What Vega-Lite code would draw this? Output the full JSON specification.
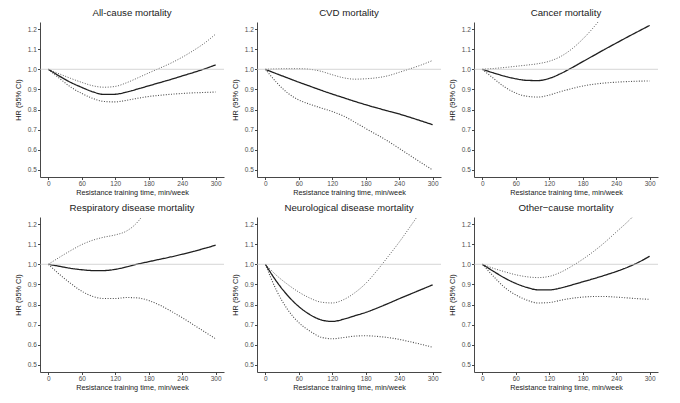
{
  "$schema": "https://vega.github.io/schema/vega-lite/v6.json",
  "background": "white",
  "padding": {"left": 14, "top": 8, "right": 2, "bottom": 2},
  "data": {
    "values": [
      {"p":"a","t":0,"hr":1,"lo":1,"hi":1},
      {"p":"a","t":20,"hr":0.966,"lo":0.955,"hi":0.977},
      {"p":"a","t":40,"hr":0.935,"lo":0.912,"hi":0.955},
      {"p":"a","t":60,"hr":0.910,"lo":0.880,"hi":0.935},
      {"p":"a","t":80,"hr":0.888,"lo":0.855,"hi":0.918},
      {"p":"a","t":100,"hr":0.875,"lo":0.840,"hi":0.911},
      {"p":"a","t":120,"hr":0.876,"lo":0.838,"hi":0.915},
      {"p":"a","t":140,"hr":0.887,"lo":0.846,"hi":0.933},
      {"p":"a","t":160,"hr":0.902,"lo":0.856,"hi":0.957},
      {"p":"a","t":180,"hr":0.918,"lo":0.865,"hi":0.982},
      {"p":"a","t":200,"hr":0.934,"lo":0.871,"hi":1.006},
      {"p":"a","t":220,"hr":0.950,"lo":0.876,"hi":1.031},
      {"p":"a","t":240,"hr":0.967,"lo":0.880,"hi":1.060},
      {"p":"a","t":260,"hr":0.984,"lo":0.883,"hi":1.093},
      {"p":"a","t":280,"hr":1.002,"lo":0.885,"hi":1.130},
      {"p":"a","t":300,"hr":1.022,"lo":0.887,"hi":1.175},

      {"p":"b","t":0,"hr":1,"lo":1,"hi":1},
      {"p":"b","t":20,"hr":0.978,"lo":0.935,"hi":1.002},
      {"p":"b","t":40,"hr":0.957,"lo":0.882,"hi":1.003},
      {"p":"b","t":60,"hr":0.936,"lo":0.848,"hi":1.003},
      {"p":"b","t":80,"hr":0.916,"lo":0.826,"hi":1.000},
      {"p":"b","t":100,"hr":0.896,"lo":0.808,"hi":0.990},
      {"p":"b","t":120,"hr":0.877,"lo":0.790,"hi":0.973},
      {"p":"b","t":140,"hr":0.859,"lo":0.768,"hi":0.958},
      {"p":"b","t":160,"hr":0.841,"lo":0.738,"hi":0.951},
      {"p":"b","t":180,"hr":0.824,"lo":0.706,"hi":0.953},
      {"p":"b","t":200,"hr":0.808,"lo":0.675,"hi":0.958},
      {"p":"b","t":220,"hr":0.793,"lo":0.643,"hi":0.968},
      {"p":"b","t":240,"hr":0.778,"lo":0.607,"hi":0.985},
      {"p":"b","t":260,"hr":0.761,"lo":0.571,"hi":1.003},
      {"p":"b","t":280,"hr":0.743,"lo":0.535,"hi":1.022},
      {"p":"b","t":300,"hr":0.725,"lo":0.500,"hi":1.044},

      {"p":"c","t":0,"hr":1,"lo":1,"hi":1},
      {"p":"c","t":20,"hr":0.982,"lo":0.955,"hi":1.004},
      {"p":"c","t":40,"hr":0.966,"lo":0.912,"hi":1.009},
      {"p":"c","t":60,"hr":0.953,"lo":0.882,"hi":1.015},
      {"p":"c","t":80,"hr":0.945,"lo":0.866,"hi":1.021},
      {"p":"c","t":100,"hr":0.944,"lo":0.862,"hi":1.028},
      {"p":"c","t":120,"hr":0.955,"lo":0.872,"hi":1.040},
      {"p":"c","t":140,"hr":0.978,"lo":0.889,"hi":1.063},
      {"p":"c","t":160,"hr":1.007,"lo":0.904,"hi":1.100},
      {"p":"c","t":180,"hr":1.038,"lo":0.917,"hi":1.150},
      {"p":"c","t":200,"hr":1.069,"lo":0.926,"hi":1.210},
      {"p":"c","t":220,"hr":1.100,"lo":0.932,"hi":1.280},
      {"p":"c","t":240,"hr":1.130,"lo":0.936,"hi":null},
      {"p":"c","t":260,"hr":1.160,"lo":0.939,"hi":null},
      {"p":"c","t":280,"hr":1.189,"lo":0.941,"hi":null},
      {"p":"c","t":300,"hr":1.218,"lo":0.942,"hi":null},

      {"p":"d","t":0,"hr":1,"lo":1,"hi":1},
      {"p":"d","t":20,"hr":0.990,"lo":0.950,"hi":1.035},
      {"p":"d","t":40,"hr":0.980,"lo":0.905,"hi":1.068},
      {"p":"d","t":60,"hr":0.973,"lo":0.866,"hi":1.098},
      {"p":"d","t":80,"hr":0.969,"lo":0.840,"hi":1.120},
      {"p":"d","t":100,"hr":0.969,"lo":0.830,"hi":1.135},
      {"p":"d","t":120,"hr":0.975,"lo":0.830,"hi":1.146},
      {"p":"d","t":140,"hr":0.987,"lo":0.835,"hi":1.165},
      {"p":"d","t":160,"hr":1.001,"lo":0.833,"hi":1.210},
      {"p":"d","t":180,"hr":1.013,"lo":0.820,"hi":1.290},
      {"p":"d","t":200,"hr":1.025,"lo":0.797,"hi":null},
      {"p":"d","t":220,"hr":1.037,"lo":0.767,"hi":null},
      {"p":"d","t":240,"hr":1.050,"lo":0.735,"hi":null},
      {"p":"d","t":260,"hr":1.064,"lo":0.700,"hi":null},
      {"p":"d","t":280,"hr":1.079,"lo":0.665,"hi":null},
      {"p":"d","t":300,"hr":1.095,"lo":0.630,"hi":null},

      {"p":"e","t":0,"hr":1,"lo":1,"hi":1},
      {"p":"e","t":20,"hr":0.915,"lo":0.870,"hi":0.945},
      {"p":"e","t":40,"hr":0.845,"lo":0.775,"hi":0.900},
      {"p":"e","t":60,"hr":0.790,"lo":0.710,"hi":0.862},
      {"p":"e","t":80,"hr":0.750,"lo":0.668,"hi":0.832},
      {"p":"e","t":100,"hr":0.724,"lo":0.638,"hi":0.812},
      {"p":"e","t":120,"hr":0.716,"lo":0.630,"hi":0.808},
      {"p":"e","t":140,"hr":0.727,"lo":0.636,"hi":0.824},
      {"p":"e","t":160,"hr":0.744,"lo":0.643,"hi":0.858},
      {"p":"e","t":180,"hr":0.761,"lo":0.645,"hi":0.905},
      {"p":"e","t":200,"hr":0.782,"lo":0.642,"hi":0.968},
      {"p":"e","t":220,"hr":0.805,"lo":0.636,"hi":1.038},
      {"p":"e","t":240,"hr":0.829,"lo":0.627,"hi":1.110},
      {"p":"e","t":260,"hr":0.852,"lo":0.615,"hi":1.188},
      {"p":"e","t":280,"hr":0.875,"lo":0.602,"hi":1.268},
      {"p":"e","t":300,"hr":0.898,"lo":0.588,"hi":null},

      {"p":"f","t":0,"hr":1,"lo":1,"hi":1},
      {"p":"f","t":20,"hr":0.965,"lo":0.940,"hi":0.980},
      {"p":"f","t":40,"hr":0.932,"lo":0.885,"hi":0.963},
      {"p":"f","t":60,"hr":0.905,"lo":0.848,"hi":0.948},
      {"p":"f","t":80,"hr":0.885,"lo":0.822,"hi":0.938},
      {"p":"f","t":100,"hr":0.873,"lo":0.808,"hi":0.934},
      {"p":"f","t":120,"hr":0.873,"lo":0.810,"hi":0.940},
      {"p":"f","t":140,"hr":0.882,"lo":0.821,"hi":0.960},
      {"p":"f","t":160,"hr":0.897,"lo":0.831,"hi":0.990},
      {"p":"f","t":180,"hr":0.913,"lo":0.837,"hi":1.025},
      {"p":"f","t":200,"hr":0.929,"lo":0.840,"hi":1.065},
      {"p":"f","t":220,"hr":0.946,"lo":0.840,"hi":1.110},
      {"p":"f","t":240,"hr":0.964,"lo":0.837,"hi":1.160},
      {"p":"f","t":260,"hr":0.985,"lo":0.833,"hi":1.210},
      {"p":"f","t":280,"hr":1.010,"lo":0.829,"hi":1.265},
      {"p":"f","t":300,"hr":1.040,"lo":0.826,"hi":null}
    ]
  },
  "columns": 3,
  "bounds": "flush",
  "spacing": {"row": 40, "column": 33},
  "concat": [
    {"title": "All-cause mortality",
     "layer": [
      {"transform": [{"filter": "datum.p == 'a'"}, {"fold": ["hr", "lo", "hi"], "as": ["s", "v"]}],
       "mark": {"type": "line", "interpolate": "monotone", "clip": true},
       "encoding": {
        "x": {"field": "t", "type": "quantitative", "scale": {"domain": [-15, 315], "nice": false}, "axis": {"values": [0, 60, 120, 180, 240, 300], "tickCount": 10, "title": "Resistance training time, min/week"}},
        "y": {"field": "v", "type": "quantitative", "scale": {"domain": [0.465, 1.235], "nice": false, "zero": false}, "axis": {"values": [0.5, 0.6, 0.7, 0.8, 0.9, 1.0, 1.1, 1.2], "tickCount": 10, "format": ".1f", "title": "HR (95% CI)"}},
        "detail": {"field": "s"},
        "strokeDash": {"field": "s", "type": "nominal", "scale": {"domain": ["hr", "lo", "hi"], "range": [[1, 0], [1, 1.6], [1, 1.6]]}, "legend": null},
        "strokeWidth": {"field": "s", "type": "nominal", "scale": {"domain": ["hr", "lo", "hi"], "range": [1.3, 0.9, 0.9]}, "legend": null},
        "color": {"field": "s", "type": "nominal", "scale": {"domain": ["hr", "lo", "hi"], "range": ["#1f1f1f", "#4a4a4a", "#4a4a4a"]}, "legend": null}
       }},
      {"data": {"values": [{}]}, "mark": {"type": "rule", "color": "#c4c4c4", "strokeWidth": 0.7}, "encoding": {"y": {"datum": 1}}}
     ]},
    {"title": "CVD mortality",
     "layer": [
      {"transform": [{"filter": "datum.p == 'b'"}, {"fold": ["hr", "lo", "hi"], "as": ["s", "v"]}],
       "mark": {"type": "line", "interpolate": "monotone", "clip": true},
       "encoding": {
        "x": {"field": "t", "type": "quantitative", "scale": {"domain": [-15, 315], "nice": false}, "axis": {"values": [0, 60, 120, 180, 240, 300], "tickCount": 10, "title": "Resistance training time, min/week"}},
        "y": {"field": "v", "type": "quantitative", "scale": {"domain": [0.465, 1.235], "nice": false, "zero": false}, "axis": {"values": [0.5, 0.6, 0.7, 0.8, 0.9, 1.0, 1.1, 1.2], "tickCount": 10, "format": ".1f", "title": "HR (95% CI)"}},
        "detail": {"field": "s"},
        "strokeDash": {"field": "s", "type": "nominal", "scale": {"domain": ["hr", "lo", "hi"], "range": [[1, 0], [1, 1.6], [1, 1.6]]}, "legend": null},
        "strokeWidth": {"field": "s", "type": "nominal", "scale": {"domain": ["hr", "lo", "hi"], "range": [1.3, 0.9, 0.9]}, "legend": null},
        "color": {"field": "s", "type": "nominal", "scale": {"domain": ["hr", "lo", "hi"], "range": ["#1f1f1f", "#4a4a4a", "#4a4a4a"]}, "legend": null}
       }},
      {"data": {"values": [{}]}, "mark": {"type": "rule", "color": "#c4c4c4", "strokeWidth": 0.7}, "encoding": {"y": {"datum": 1}}}
     ]},
    {"title": "Cancer mortality",
     "layer": [
      {"transform": [{"filter": "datum.p == 'c'"}, {"fold": ["hr", "lo", "hi"], "as": ["s", "v"]}],
       "mark": {"type": "line", "interpolate": "monotone", "clip": true},
       "encoding": {
        "x": {"field": "t", "type": "quantitative", "scale": {"domain": [-15, 315], "nice": false}, "axis": {"values": [0, 60, 120, 180, 240, 300], "tickCount": 10, "title": "Resistance training time, min/week"}},
        "y": {"field": "v", "type": "quantitative", "scale": {"domain": [0.465, 1.235], "nice": false, "zero": false}, "axis": {"values": [0.5, 0.6, 0.7, 0.8, 0.9, 1.0, 1.1, 1.2], "tickCount": 10, "format": ".1f", "title": "HR (95% CI)"}},
        "detail": {"field": "s"},
        "strokeDash": {"field": "s", "type": "nominal", "scale": {"domain": ["hr", "lo", "hi"], "range": [[1, 0], [1, 1.6], [1, 1.6]]}, "legend": null},
        "strokeWidth": {"field": "s", "type": "nominal", "scale": {"domain": ["hr", "lo", "hi"], "range": [1.3, 0.9, 0.9]}, "legend": null},
        "color": {"field": "s", "type": "nominal", "scale": {"domain": ["hr", "lo", "hi"], "range": ["#1f1f1f", "#4a4a4a", "#4a4a4a"]}, "legend": null}
       }},
      {"data": {"values": [{}]}, "mark": {"type": "rule", "color": "#c4c4c4", "strokeWidth": 0.7}, "encoding": {"y": {"datum": 1}}}
     ]},
    {"title": "Respiratory disease mortality",
     "layer": [
      {"transform": [{"filter": "datum.p == 'd'"}, {"fold": ["hr", "lo", "hi"], "as": ["s", "v"]}],
       "mark": {"type": "line", "interpolate": "monotone", "clip": true},
       "encoding": {
        "x": {"field": "t", "type": "quantitative", "scale": {"domain": [-15, 315], "nice": false}, "axis": {"values": [0, 60, 120, 180, 240, 300], "tickCount": 10, "title": "Resistance training time, min/week"}},
        "y": {"field": "v", "type": "quantitative", "scale": {"domain": [0.465, 1.235], "nice": false, "zero": false}, "axis": {"values": [0.5, 0.6, 0.7, 0.8, 0.9, 1.0, 1.1, 1.2], "tickCount": 10, "format": ".1f", "title": "HR (95% CI)"}},
        "detail": {"field": "s"},
        "strokeDash": {"field": "s", "type": "nominal", "scale": {"domain": ["hr", "lo", "hi"], "range": [[1, 0], [1, 1.6], [1, 1.6]]}, "legend": null},
        "strokeWidth": {"field": "s", "type": "nominal", "scale": {"domain": ["hr", "lo", "hi"], "range": [1.3, 0.9, 0.9]}, "legend": null},
        "color": {"field": "s", "type": "nominal", "scale": {"domain": ["hr", "lo", "hi"], "range": ["#1f1f1f", "#4a4a4a", "#4a4a4a"]}, "legend": null}
       }},
      {"data": {"values": [{}]}, "mark": {"type": "rule", "color": "#c4c4c4", "strokeWidth": 0.7}, "encoding": {"y": {"datum": 1}}}
     ]},
    {"title": "Neurological disease mortality",
     "layer": [
      {"transform": [{"filter": "datum.p == 'e'"}, {"fold": ["hr", "lo", "hi"], "as": ["s", "v"]}],
       "mark": {"type": "line", "interpolate": "monotone", "clip": true},
       "encoding": {
        "x": {"field": "t", "type": "quantitative", "scale": {"domain": [-15, 315], "nice": false}, "axis": {"values": [0, 60, 120, 180, 240, 300], "tickCount": 10, "title": "Resistance training time, min/week"}},
        "y": {"field": "v", "type": "quantitative", "scale": {"domain": [0.465, 1.235], "nice": false, "zero": false}, "axis": {"values": [0.5, 0.6, 0.7, 0.8, 0.9, 1.0, 1.1, 1.2], "tickCount": 10, "format": ".1f", "title": "HR (95% CI)"}},
        "detail": {"field": "s"},
        "strokeDash": {"field": "s", "type": "nominal", "scale": {"domain": ["hr", "lo", "hi"], "range": [[1, 0], [1, 1.6], [1, 1.6]]}, "legend": null},
        "strokeWidth": {"field": "s", "type": "nominal", "scale": {"domain": ["hr", "lo", "hi"], "range": [1.3, 0.9, 0.9]}, "legend": null},
        "color": {"field": "s", "type": "nominal", "scale": {"domain": ["hr", "lo", "hi"], "range": ["#1f1f1f", "#4a4a4a", "#4a4a4a"]}, "legend": null}
       }},
      {"data": {"values": [{}]}, "mark": {"type": "rule", "color": "#c4c4c4", "strokeWidth": 0.7}, "encoding": {"y": {"datum": 1}}}
     ]},
    {"title": "Other\u2212cause mortality",
     "layer": [
      {"transform": [{"filter": "datum.p == 'f'"}, {"fold": ["hr", "lo", "hi"], "as": ["s", "v"]}],
       "mark": {"type": "line", "interpolate": "monotone", "clip": true},
       "encoding": {
        "x": {"field": "t", "type": "quantitative", "scale": {"domain": [-15, 315], "nice": false}, "axis": {"values": [0, 60, 120, 180, 240, 300], "tickCount": 10, "title": "Resistance training time, min/week"}},
        "y": {"field": "v", "type": "quantitative", "scale": {"domain": [0.465, 1.235], "nice": false, "zero": false}, "axis": {"values": [0.5, 0.6, 0.7, 0.8, 0.9, 1.0, 1.1, 1.2], "tickCount": 10, "format": ".1f", "title": "HR (95% CI)"}},
        "detail": {"field": "s"},
        "strokeDash": {"field": "s", "type": "nominal", "scale": {"domain": ["hr", "lo", "hi"], "range": [[1, 0], [1, 1.6], [1, 1.6]]}, "legend": null},
        "strokeWidth": {"field": "s", "type": "nominal", "scale": {"domain": ["hr", "lo", "hi"], "range": [1.3, 0.9, 0.9]}, "legend": null},
        "color": {"field": "s", "type": "nominal", "scale": {"domain": ["hr", "lo", "hi"], "range": ["#1f1f1f", "#4a4a4a", "#4a4a4a"]}, "legend": null}
       }},
      {"data": {"values": [{}]}, "mark": {"type": "rule", "color": "#c4c4c4", "strokeWidth": 0.7}, "encoding": {"y": {"datum": 1}}}
     ]}
  ],
  "config": {
    "font": "Liberation Sans",
    "view": {"stroke": null, "continuousWidth": 184, "continuousHeight": 155},
    "title": {"fontSize": 9.7, "fontWeight": "normal", "color": "#1a1a1a", "anchor": "middle", "frame": "group", "offset": 4},
    "axis": {
      "grid": false,
      "labelOverlap": false, "labelFlush": false,
      "domainColor": "#333333", "domainWidth": 0.9,
      "tickColor": "#333333", "tickWidth": 0.9, "tickSize": 2.5,
      "labelFontSize": 6.5, "labelColor": "#4d4d4d",
      "titleFontSize": 7.3, "titleFontWeight": "normal", "titleColor": "#1a1a1a"
    },
    "axisX": {"labelPadding": 0.5, "titlePadding": 2},
    "axisY": {"labelPadding": 1.2, "titlePadding": 5}
  }
}
